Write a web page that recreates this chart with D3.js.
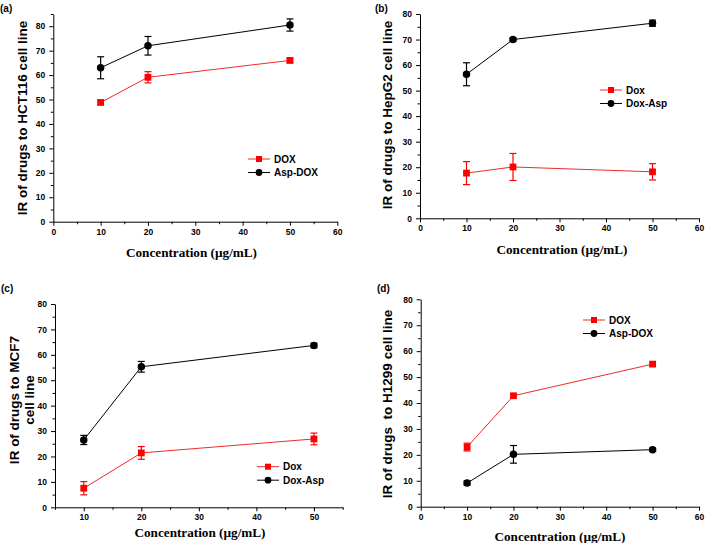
<!DOCTYPE html>
<html><head><meta charset="utf-8">
<script src="https://cdn.jsdelivr.net/npm/d3@7"></script>
<style>body{margin:0;background:#fff}svg{display:block}</style>
</head><body>
<svg id="c" width="705" height="543"></svg>
<script>
// ---- data ----
const concentrations = [10, 20, 50];
const panelLabels = ["(a)", "(b)", "(c)", "(d)"];
const yTitles = [["IR of drugs to HCT116 cell line"], ["IR of drugs to HepG2 cell line"], ["IR of drugs to MCF7", "cell line"], ["IR of drugs  to H1299 cell line"]];
const xTitle = "Concentration (\u00b5g/mL)";
const redNames = ["DOX", "Dox", "Dox", "DOX"];
const blackNames = ["Asp-DOX", "Dox-Asp", "Dox-Asp", "Asp-DOX"];
const redValues = [[48.8, 59.1, 66.0], [17.7, 20.1, 18.2], [7.5, 21.4, 26.9], [23.0, 42.8, 55.0]];
const redErrors = [[0.9, 2.3, 0.9], [4.5, 5.3, 3.2], [2.6, 2.5, 2.3], [1.5, 0.6, 0.8]];
const blackValues = [[63.0, 72.0, 80.5], [56.4, 70.0, 76.4], [26.5, 55.3, 63.7], [9.1, 20.2, 22.0]];
const blackErrors = [[4.5, 3.8, 2.5], [4.5, 0.6, 1.2], [1.8, 2.1, 0.9], [0.8, 3.4, 0.6]];
const xTickValues = [[0, 10, 20, 30, 40, 50, 60], [0, 10, 20, 30, 40, 50, 60], [10, 20, 30, 40, 50], [0, 10, 20, 30, 40, 50, 60]];
const xDomains = [[0, 60], [0, 60], [5, 55], [0, 60]];
const yDomains = [[0, 85], [0, 80], [0, 80], [0, 80]];
const yTickValues = [0, 10, 20, 30, 40, 50, 60, 70, 80];

// ---- layout ----
const layout = [
  {x: [53.3, 337.3], y: [221.7, 14], lab: [0, 12], yt: [22, 118], xt: [191.5, 257], leg: [248, 159]},
  {x: [420, 699], y: [218.3, 14], lab: [375, 12], yt: [387, 115], xt: [562, 254], leg: [600, 90]},
  {x: [55, 342.7], y: [507.3, 304], lab: [1, 292], yt: [19, 400], xt: [200, 537], leg: [257, 466.7]},
  {x: [420.7, 699], y: [506.7, 299.3], lab: [377, 292], yt: [387, 404], xt: [560, 541], leg: [583, 320]}
];
const RED = "#ff0000", RED_LINE = "#ee2a2a", BLACK = "#000";
const SANS = "'Liberation Sans', Arial, sans-serif";
const SERIF = "'Liberation Serif', 'Times New Roman', serif";

const svg = d3.select("#c");

layout.forEach((L, i) => {
  const g = svg.append("g");
  const x = d3.scaleLinear().domain(xDomains[i]).range(L.x);
  const y = d3.scaleLinear().domain(yDomains[i]).range(L.y);
  const x0 = L.x[0], y0 = L.y[0];

  // minor ticks
  const xMinor = d3.range(xDomains[i][0], xDomains[i][1] + 0.01, 5).filter(v => !xTickValues[i].includes(v));
  const yMinor = d3.range(0, yDomains[i][1] + 0.01, 5).filter(v => !yTickValues.includes(v));
  g.append("g").attr("transform", `translate(0,${y0})`)
    .call(d3.axisBottom(x).tickValues(xMinor).tickSize(2.5).tickFormat(""))
    .call(s => s.select(".domain").remove());
  g.append("g").attr("transform", `translate(${x0},0)`)
    .call(d3.axisLeft(y).tickValues(yMinor).tickSize(2.5).tickFormat(""))
    .call(s => s.select(".domain").remove());

  // major axes
  const xa = g.append("g").attr("transform", `translate(0,${y0})`)
    .call(d3.axisBottom(x).tickValues(xTickValues[i]).tickSize(4).tickSizeOuter(0).tickPadding(3).tickFormat(d3.format("d")));
  const ya = g.append("g").attr("transform", `translate(${x0},0)`)
    .call(d3.axisLeft(y).tickValues(yTickValues).tickSize(4).tickSizeOuter(0).tickPadding(4).tickFormat(d3.format("d")));
  [xa, ya].forEach(a => {
    a.selectAll("text").attr("font-family", SANS).attr("font-weight", "bold").attr("font-size", 8.5).attr("fill", "#000");
    a.selectAll("line,path").attr("stroke", "#000").attr("stroke-width", 1);
  });
  g.selectAll(".tick line").attr("stroke", "#000");

  // panel label
  g.append("text").attr("x", L.lab[0]).attr("y", L.lab[1]).text(panelLabels[i])
    .attr("font-family", SANS).attr("font-weight", "bold").attr("font-size", 10);

  // y title
  const yt = g.append("text").attr("transform", `translate(${L.yt[0]},${L.yt[1]}) rotate(-90)`)
    .attr("text-anchor", "middle").attr("font-family", SANS).attr("font-weight", "bold").attr("font-size", 13.5);
  const lines = yTitles[i];
  lines.forEach((t, k) => {
    yt.append("tspan").attr("x", 0).attr("y", lines.length === 1 ? 5 : k * 14.5).text(t)
      .attr("xml:space", "preserve").style("white-space", "pre");
  });

  // x title
  g.append("text").attr("x", L.xt[0]).attr("y", L.xt[1]).attr("text-anchor", "middle")
    .attr("font-family", SERIF).attr("font-weight", "bold").attr("font-size", 13.2).text(xTitle);

  // series
  const series = [
    {vals: redValues[i], errs: redErrors[i], color: RED, lcolor: RED_LINE, shape: "square", name: redNames[i]},
    {vals: blackValues[i], errs: blackErrors[i], color: BLACK, lcolor: BLACK, shape: "circle", name: blackNames[i]}
  ];
  series.forEach((s, si) => {
    const pts = concentrations.map((c, k) => ({c, v: s.vals[k], e: s.errs[k]}));
    g.append("path").datum(pts)
      .attr("d", d3.line().x(d => x(d.c)).y(d => y(d.v)))
      .attr("fill", "none").attr("stroke", s.lcolor).attr("stroke-width", 1);
    const eb = g.append("g").attr("stroke", s.color).attr("stroke-width", 1.2);
    pts.forEach(d => {
      const cx = x(d.c), t = y(d.v + d.e), b = y(d.v - d.e);
      eb.append("line").attr("x1", cx).attr("x2", cx).attr("y1", t).attr("y2", b);
      eb.append("line").attr("x1", cx - 3.5).attr("x2", cx + 3.5).attr("y1", t).attr("y2", t);
      eb.append("line").attr("x1", cx - 3.5).attr("x2", cx + 3.5).attr("y1", b).attr("y2", b);
    });
    const sym = d3.symbol().type(s.shape === "square" ? d3.symbolSquare : d3.symbolCircle).size(s.shape === "square" ? 46 : 44);
    g.selectAll(null).data(pts).enter().append("path")
      .attr("d", sym).attr("transform", d => `translate(${x(d.c)},${y(d.v)})`).attr("fill", s.color);

    // legend
    const ly = L.leg[1] + si * 13.5;
    g.append("line").attr("x1", L.leg[0]).attr("x2", L.leg[0] + 22).attr("y1", ly).attr("y2", ly)
      .attr("stroke", s.lcolor).attr("stroke-width", 1);
    g.append("path").attr("d", d3.symbol().type(s.shape === "square" ? d3.symbolSquare : d3.symbolCircle).size(36))
      .attr("transform", `translate(${L.leg[0] + 11},${ly})`).attr("fill", s.color);
    g.append("text").attr("x", L.leg[0] + 26).attr("y", ly + 3.5).text(s.name)
      .attr("font-family", SANS).attr("font-weight", "bold").attr("font-size", 10);
  });
});
</script>
</body></html>
